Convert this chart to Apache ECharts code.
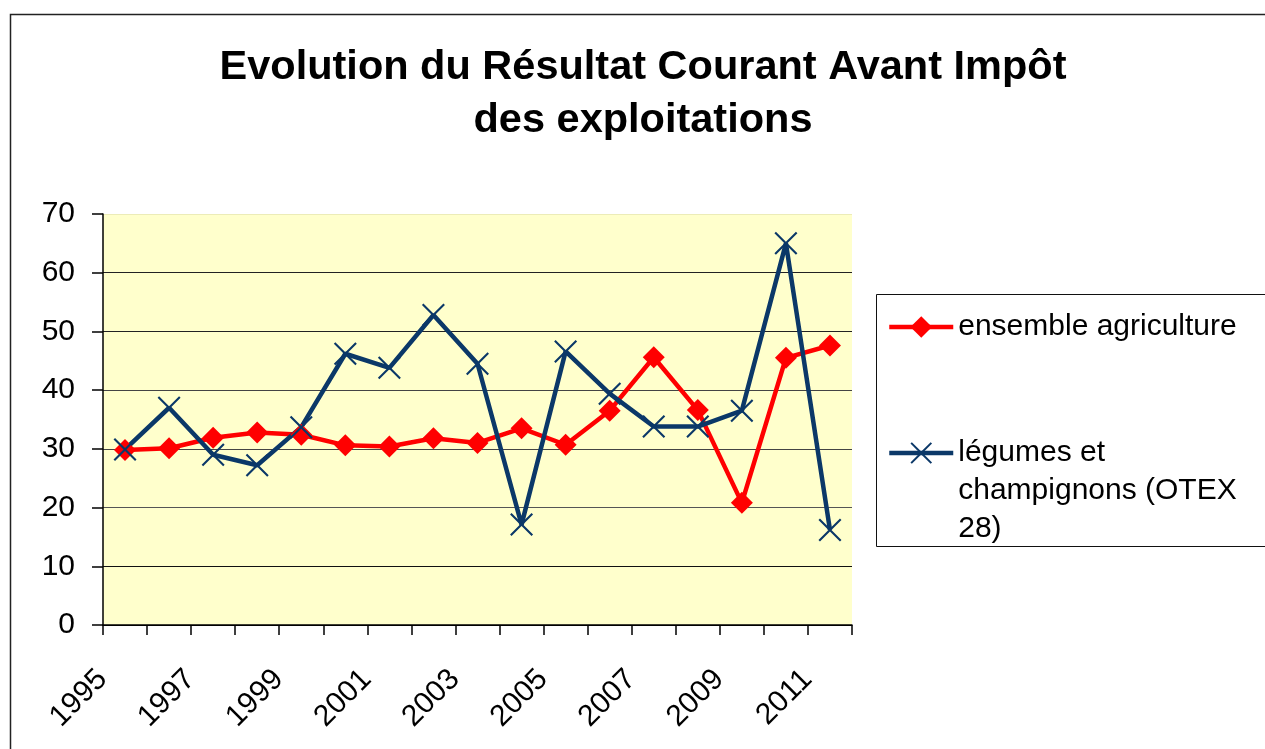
<!DOCTYPE html>
<html>
<head>
<meta charset="utf-8">
<title>Evolution du RCAI</title>
<script src="https://cdn.jsdelivr.net/npm/echarts@6/dist/echarts.min.js"></script>
<style>
	html, body {
		margin: 0;
		padding: 0;
		background: #fff;
	}
	#main {
		width: 1265px;
		height: 749px;
	}
</style>
</head>
<body>
<div id="main"></div>
<script>
	// données
	var years = ['1995', '1996', '1997', '1998', '1999', '2000', '2001', '2002', '2003',
		'2004', '2005', '2006', '2007', '2008', '2009', '2010', '2011'];
	var ensembleAgri = [29.8, 30.1, 31.9, 32.8, 32.4, 30.6, 30.4, 31.8, 31.0,
		33.5, 30.7, 36.5, 45.6, 36.6, 20.8, 45.5, 47.6];
	var legumes = [29.9, 37.0, 29.0, 27.2, 33.7, 46.2, 43.8, 52.8, 44.5,
		17.1, 46.6, 39.4, 33.8, 33.8, 36.5, 65.0, 16.2];
	var yTicks = [0, 10, 20, 30, 40, 50, 60, 70];

	var nameAgri = 'ensemble agriculture';
	var nameLeg = 'légumes et\nchampignons (OTEX\n28)';

	var fontFam = '"Liberation Sans", Arial, sans-serif';
	var crossPath = 'path://M0,1.3L1.3,0L10,8.7L18.7,0L20,1.3L11.3,10L20,18.7L18.7,20L10,11.3L1.3,20L0,18.7L8.7,10Z';

	var myChart = echarts.init(document.getElementById('main'));
	var legendText = { fontFamily: fontFam, fontSize: 30, color: '#000', lineHeight: 38 };
	var option = {
		backgroundColor: '#fff',
		animation: false,
		title: {
			text: 'Evolution du Résultat Courant Avant Impôt\ndes exploitations',
			left: 638,
			top: 36,
			textAlign: 'center',
			textStyle: {
				fontFamily: fontFam,
				fontWeight: 'bold',
				fontSize: 41.5,
				lineHeight: 53,
				color: '#000'
			}
		},
		graphic: [
			{
				// cadre extérieur
				type: 'rect',
				left: 8,
				top: 12,
				shape: { width: 1300, height: 800 },
				style: { fill: 'none', stroke: '#222', lineWidth: 1.5 }
			},
			{
				// cadre de la légende
				type: 'rect',
				left: 874,
				top: 292,
				shape: { width: 420, height: 252 },
				style: { fill: 'none', stroke: '#111', lineWidth: 1 }
			}
		],
		legend: [
			{
				data: [nameAgri],
				left: 882,
				top: 303,
				itemWidth: 64,
				itemHeight: 27,
				lineStyle: { width: 'inherit' },
				textStyle: legendText
			},
			{
				// deux lignes vides en tête pour aligner le symbole sur la première ligne
				data: [nameLeg],
				left: 882,
				top: 353,
				itemWidth: 64,
				itemHeight: 27,
				lineStyle: { width: 'inherit' },
				formatter: function (name) {
					return '\n\n' + name;
				},
				textStyle: legendText
			}
		],
		grid: {
			left: 103,
			right: 413,
			top: 214,
			bottom: 124,
			show: true,
			backgroundColor: '#ffffcc',
			borderWidth: 0
		},
		xAxis: {
			type: 'category',
			data: years,
			boundaryGap: true,
			axisLine: { show: true, lineStyle: { color: '#000', width: 1.5 } },
			axisTick: { show: true, interval: 0, length: 10, lineStyle: { color: '#000', width: 1.5 } },
			axisLabel: {
				interval: 1,
				rotate: 45,
				margin: 27,
				padding: [0, 32, 0, 0],
				fontFamily: fontFam,
				fontSize: 30,
				color: '#000'
			},
			splitLine: { show: false }
		},
		yAxis: {
			type: 'value',
			min: 0,
			max: 70,
			interval: 10,
			axisLine: { show: true, lineStyle: { color: '#000', width: 1.5 } },
			axisTick: { show: true, length: 11, lineStyle: { color: '#000', width: 1.5 } },
			axisLabel: {
				margin: 28,
				fontFamily: fontFam,
				fontSize: 30,
				color: '#000',
				formatter: function (v) {
					return yTicks.indexOf(v) >= 0 ? String(v) : '';
				}
			},
			splitLine: {
				show: true,
				lineStyle: {
					color: ['#000', '#111', '#555', '#444', '#444', '#222', '#222', '#ececb8'],
					width: 1.2
				}
			}
		},
		series: [
			{
				name: nameAgri,
				type: 'line',
				data: ensembleAgri,
				symbol: 'diamond',
				symbolSize: 22,
				lineStyle: { color: '#ff0000', width: 4.5 },
				itemStyle: { color: '#ff0000' }
			},
			{
				name: nameLeg,
				type: 'line',
				data: legumes,
				symbol: crossPath,
				symbolSize: 23,
				lineStyle: { color: '#0b3868', width: 4.5 },
				itemStyle: { color: '#0b3868' }
			}
		]
	};
	myChart.setOption(option);
</script>
</body>
</html>
